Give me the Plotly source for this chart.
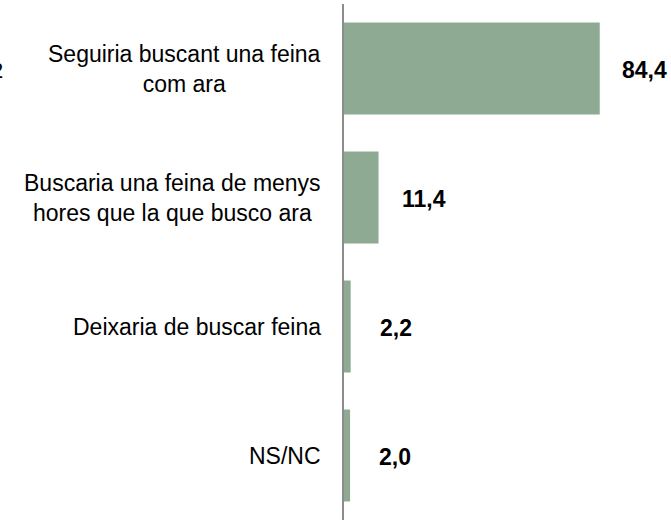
import plotly.graph_objects as go

categories = [
    "Seguiria buscant una feina<br>com ara",
    "Buscaria una feina de menys<br>hores que la que busco ara",
    "Deixaria de buscar feina",
    "NS/NC",
]
values = [84.4, 11.4, 2.2, 2.0]
value_labels = ["84,4", "11,4", "2,2", "2,0"]

bar_color = "#8EAA93"
font_family = "Liberation Sans, Arial, sans-serif"

fig = go.Figure()
fig.add_trace(go.Bar(
    x=values,
    y=categories,
    orientation="h",
    marker=dict(color=bar_color, line=dict(width=0)),
    hoverinfo="skip",
))

annotations = []
for cat, v, lab in zip(categories, values, value_labels):
    # value labels
    annotations.append(dict(
        x=v, y=cat, xref="x", yref="y", text=lab, showarrow=False,
        xanchor="center", yanchor="middle", xshift=45, yshift=-1,
        font=dict(family=font_family, size=23, color="#000000", weight="bold"),
    ))
    # category labels (centered multi-line)
    annotations.append(dict(
        x=0, y=cat, xref="paper", yref="y", text=cat, showarrow=False,
        xanchor="right", yanchor="middle", align="center", xshift=-21,
        font=dict(family=font_family, size=23, color="#000000"),
    ))

# clipped fragment at the left edge
annotations.append(dict(
    x=0, y=categories[0], xref="paper", yref="y", text="2", showarrow=False,
    xanchor="right", yanchor="middle", xshift=-339, yshift=-2,
    font=dict(family=font_family, size=22, color="#000000"),
))

fig.update_layout(
    width=671, height=520,
    margin=dict(l=344, r=24, t=4, b=0),
    paper_bgcolor="white", plot_bgcolor="white",
    showlegend=False,
    bargap=0.287,
    annotations=annotations,
    font=dict(family=font_family, size=23, color="#000000"),
    xaxis=dict(range=[0, 100], visible=False, fixedrange=True),
    yaxis=dict(
        categoryorder="array", categoryarray=categories,
        autorange="reversed",
        showticklabels=False, ticks="",
        showgrid=False, zeroline=False,
        showline=True, linecolor="#8C8C8C", linewidth=1.5,
        fixedrange=True,
    ),
)

fig.write_html(
    "out.html",
    config={"displayModeBar": False},
    post_script="document.body.style.margin='0';document.body.style.overflow='hidden';",
)
